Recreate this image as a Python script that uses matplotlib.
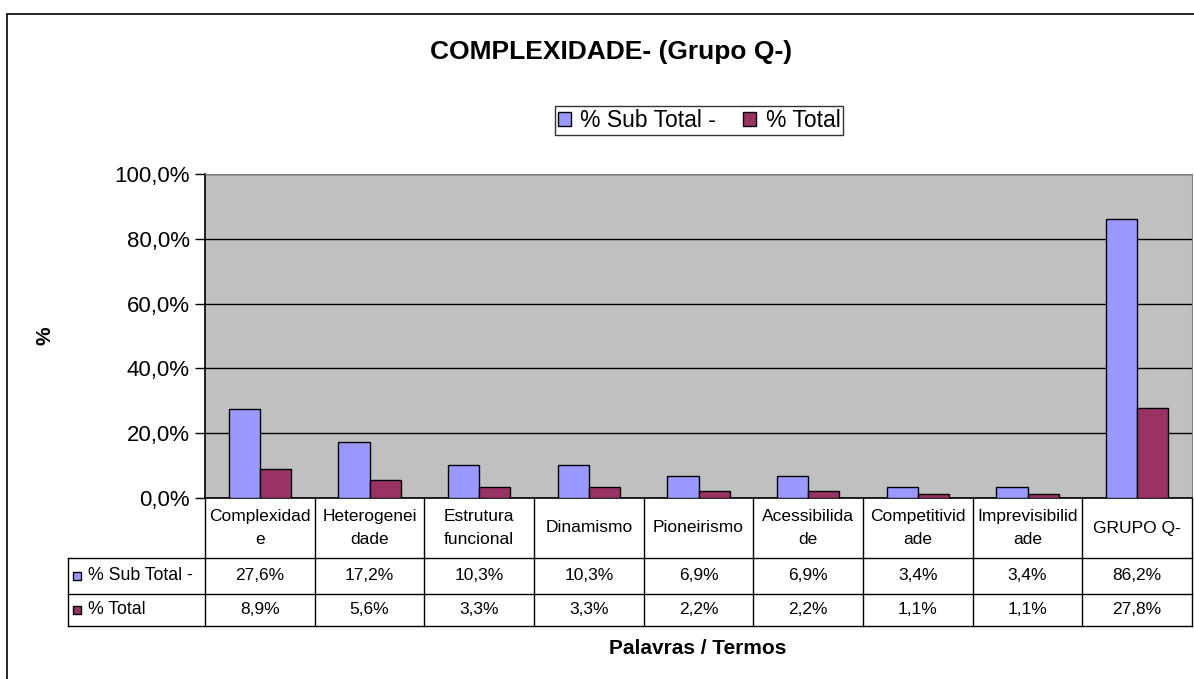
import matplotlib
matplotlib.use('Agg')
import matplotlib.pyplot as plt
import matplotlib.transforms as mtransforms
from matplotlib.patches import Patch, Rectangle
from matplotlib.ticker import FuncFormatter, MultipleLocator
import numpy as np

plt.rcParams['font.family'] = ['Liberation Sans', 'DejaVu Sans']

# data
categories = ['Complexidade', 'Heterogeneidade', 'Estrutura funcional', 'Dinamismo',
              'Pioneirismo', 'Acessibilidade', 'Competitividade', 'Imprevisibilidade', 'GRUPO Q-']
cat_labels = ['Complexidad\ne', 'Heterogenei\ndade', 'Estrutura\nfuncional', 'Dinamismo',
              'Pioneirismo', 'Acessibilida\nde', 'Competitivid\nade', 'Imprevisibilid\nade', 'GRUPO Q-']
sub_total = [27.6, 17.2, 10.3, 10.3, 6.9, 6.9, 3.4, 3.4, 86.2]
total = [8.9, 5.6, 3.3, 3.3, 2.2, 2.2, 1.1, 1.1, 27.8]
series_names = ['% Sub Total -', '% Total']
colors = ['#9999FF', '#993366']

W, H = 1194, 679
fig = plt.figure(figsize=(W / 100, H / 100), dpi=100)

def fx(px):
    return px / W

def fy(py):
    return 1 - py / H

# outer chart frame (cut off at right and bottom)
fig.patches.append(Rectangle((fx(7), -0.1), 1.2, fy(14) + 0.1, transform=fig.transFigure,
                             fill=False, edgecolor='black', lw=1.2))

left, right, top, bottom = 205, 1192, 174, 498
ax = fig.add_axes([fx(left), fy(bottom), fx(right - left), (bottom - top) / H])
ax.set_facecolor('#C0C0C0')

x = np.arange(len(categories))
bw = 0.285
ax.bar(x - bw / 2, sub_total, bw, color=colors[0], edgecolor='black', lw=1, zorder=3)
ax.bar(x + bw / 2, total, bw, color=colors[1], edgecolor='black', lw=1, zorder=3)

ax.set_xlim(-0.5, len(categories) - 0.5)
ax.set_ylim(0, 100)
ax.yaxis.set_major_locator(MultipleLocator(20))
ax.yaxis.set_major_formatter(FuncFormatter(lambda v, p: f'{v:.1f}%'.replace('.', ',')))
ax.tick_params(axis='y', labelsize=16, length=7, width=1, direction='out', pad=4)
ax.set_xticks([])
ax.grid(axis='y', color='black', lw=1, zorder=1)
for s in ['top', 'right']:
    ax.spines[s].set_color('#808080')
for s in ['left', 'bottom']:
    ax.spines[s].set_color('black')
    ax.spines[s].set_linewidth(1.2)

# data table under the plot
trans = mtransforms.blended_transform_factory(ax.transData, ax.transAxes)
ph = bottom - top
r0 = 0.0
r1 = -(558 - bottom) / ph
r2 = -(594 - bottom) / ph
r3 = -(626 - bottom) / ph
unit = (right - left) / len(categories)
xl = -0.5 - (left - 68) / unit
xr = len(categories) - 0.5
lk = dict(color='black', lw=1, transform=trans, clip_on=False)
for yy in [r1, r2, r3]:
    ax.plot([xl, xr], [yy, yy], **lk)
for b in np.arange(len(categories) + 1) - 0.5:
    ax.plot([b, b], [r0, r3], **lk)
ax.plot([xl, xl], [r1, r3], **lk)

for i, lab in enumerate(cat_labels):
    ax.text(i, (r0 + r1) / 2, lab, ha='center', va='center', fontsize=12.5,
            linespacing=1.6, transform=trans, clip_on=False)
    ax.text(i, (r1 + r2) / 2, f'{sub_total[i]:.1f}%'.replace('.', ','), ha='center',
            va='center', fontsize=12.5, transform=trans, clip_on=False)
    ax.text(i, (r2 + r3) / 2, f'{total[i]:.1f}%'.replace('.', ','), ha='center',
            va='center', fontsize=12.5, transform=trans, clip_on=False)

for yy0, yy1, name, c in [(r1, r2, series_names[0], colors[0]), (r2, r3, series_names[1], colors[1])]:
    ym = (yy0 + yy1) / 2
    ax.plot([xl + 8.5 / unit], [ym], marker='s', ms=6, mfc=c, mec='black', mew=1,
            transform=trans, clip_on=False)
    ax.text(xl + 20 / unit, ym, name, ha='left', va='center', fontsize=12.8,
            transform=trans, clip_on=False)

# titles
fig.text(fx(611), fy(52), 'COMPLEXIDADE- (Grupo Q-)', ha='center', va='center',
         fontsize=19, fontweight='bold')
fig.text(fx(45), fy(336), '%', ha='center', va='center', rotation=90,
         fontsize=15, fontweight='bold')
fig.text(fx(698), fy(648), 'Palavras / Termos', ha='center', va='center',
         fontsize=15, fontweight='bold')

handles = [Patch(facecolor=colors[0], edgecolor='black', lw=1, label=series_names[0]),
           Patch(facecolor=colors[1], edgecolor='black', lw=1, label=series_names[1])]
leg = fig.legend(handles=handles, loc='center', bbox_to_anchor=(fx(699), fy(120.5)),
                 ncol=2, fontsize=16.5, frameon=True, fancybox=False, shadow=False,
                 handlelength=0.57, handleheight=0.57, handletextpad=0.4,
                 columnspacing=1.2, borderpad=0.12, borderaxespad=0)
leg.get_frame().set_edgecolor('black')
leg.get_frame().set_linewidth(1)

fig.savefig('out.png', dpi=100)
plt.close(fig)
